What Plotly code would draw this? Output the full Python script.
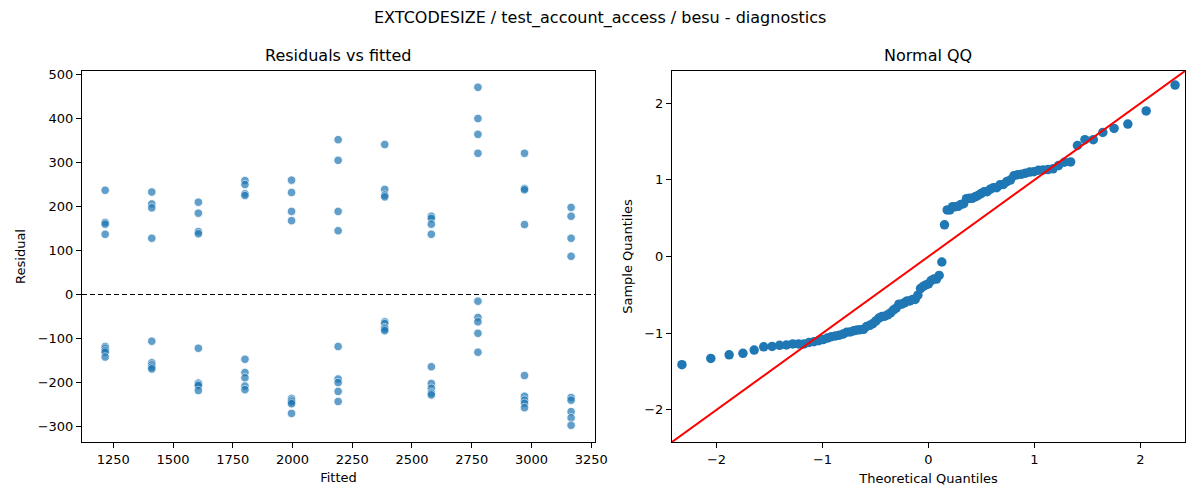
import statistics
import numpy as np
import plotly.graph_objects as go

# ---- data ----
fitted_levels = [1216, 1411, 1606, 1801, 1996, 2191, 2386, 2581, 2776, 2971, 3166]

residuals_by_level = [
    [237, 164, 160, 137, -118, -122, -127, -131, -142],
    [233, 206, 197, 128, -106, -155, -160, -165, -169],
    [210, 185, 143, 138, -122, -201, -204, -207, -218],
    [259, 250, 229, 225, -147, -177, -189, -208, -216],
    [260, 232, 189, 168, -236, -240, -244, -248, -270],
    [352, 305, 189, 145, -118, -192, -200, -220, -243],
    [341, 239, 226, 222, -62, -66, -75, -78, -82],
    [178, 173, 160, 137, -164, -202, -213, -224, -228],
    [471, 400, 364, 321, -15, -52, -62, -88, -131],
    [321, 241, 238, 159, -184, -231, -240, -247, -257],
    [198, 178, 128, 87, -234, -240, -266, -280, -297],
]

resid_ticks = [-300, -200, -100, 0, 100, 200, 300, 400, 500]
fitted_ticks = [1250, 1500, 1750, 2000, 2250, 2500, 2750, 3000, 3250]
qq_ticks = [-2, -1, 0, 1, 2]

title_text = "EXTCODESIZE / test_account_access / besu - diagnostics"

# ---- derived series ----
fitted = []
resid = []
for lvl, vals in zip(fitted_levels, residuals_by_level):
    for v in vals:
        fitted.append(lvl)
        resid.append(v)

r = np.array(resid, dtype=float)
n = len(r)
sample_q = np.sort((r - r.mean()) / r.std())
nd = statistics.NormalDist()
theo_q = np.array([nd.inv_cdf(i / (n + 1)) for i in range(1, n + 1)])

FONT = "DejaVu Sans"
BLUE = "#1f77b4"

# page body has an 8px margin; figure occupies page pixels 8..1200 x 8..500
OFF = 8
W, H = 1200 - OFF, 500 - OFF


def px(xp):
    return (xp - OFF) / W


def py(yp):
    return 1 - (yp - OFF) / H


fig = go.Figure()

# Residuals vs fitted
fig.add_trace(go.Scatter(
    x=fitted, y=resid, mode="markers",
    marker=dict(color=BLUE, opacity=0.7, size=8.5,
                line=dict(color="white", width=0.8)),
    xaxis="x", yaxis="y", showlegend=False, hoverinfo="x+y"))

xl = [1119, 3266]
fig.add_trace(go.Scatter(
    x=xl, y=[0, 0], mode="lines",
    line=dict(color="black", width=1.1, dash="5px,3px"),
    xaxis="x", yaxis="y", showlegend=False, hoverinfo="skip"))

# Normal QQ
fig.add_trace(go.Scatter(
    x=theo_q, y=sample_q, mode="markers",
    marker=dict(color=BLUE, size=9.5, line=dict(width=0)),
    xaxis="x2", yaxis="y2", showlegend=False))

lim = [-2.42, 2.42]
fig.add_trace(go.Scatter(
    x=lim, y=lim, mode="lines",
    line=dict(color="red", width=2),
    xaxis="x2", yaxis="y2", showlegend=False, hoverinfo="skip"))

axis_common = dict(
    showgrid=False, zeroline=False, showline=True, linecolor="black",
    linewidth=1, mirror=True, ticks="outside", ticklen=5, tickwidth=1,
    tickcolor="black", tickfont=dict(family=FONT, size=13, color="black"),
    automargin=False,
)

y_dom = [py(442), py(71)]

fig.update_layout(
    width=W, height=H,
    margin=dict(l=0, r=0, t=0, b=0, autoexpand=False),
    paper_bgcolor="white", plot_bgcolor="white",
    font=dict(family=FONT, color="black"),
    xaxis=dict(domain=[px(82), px(595)], range=xl,
               tickvals=fitted_ticks, anchor="y",
               title=dict(text="Fitted", font=dict(size=13, family=FONT), standoff=7),
               **axis_common),
    yaxis=dict(domain=y_dom, range=[-335, 508], tickvals=resid_ticks, anchor="x",
               title=dict(text="Residual", font=dict(size=13, family=FONT), standoff=9),
               **axis_common),
    xaxis2=dict(domain=[px(672), px(1185)], range=lim, tickvals=qq_ticks,
                anchor="y2",
                title=dict(text="Theoretical Quantiles", font=dict(size=13, family=FONT), standoff=8),
                **axis_common),
    yaxis2=dict(domain=y_dom, range=lim, tickvals=qq_ticks, anchor="x2",
                title=dict(text="Sample Quantiles", font=dict(size=13, family=FONT), standoff=8),
                **axis_common),
    annotations=[
        dict(text=title_text, x=px(600), y=py(18), xref="paper", yref="paper",
             showarrow=False, xanchor="center", yanchor="middle",
             font=dict(family=FONT, size=16, color="black")),
        dict(text="Residuals vs fitted", x=px((82 + 595) / 2), y=py(56),
             xref="paper", yref="paper", showarrow=False,
             xanchor="center", yanchor="middle",
             font=dict(family=FONT, size=16, color="black")),
        dict(text="Normal QQ", x=px((672 + 1185) / 2), y=py(56),
             xref="paper", yref="paper", showarrow=False,
             xanchor="center", yanchor="middle",
             font=dict(family=FONT, size=16, color="black")),
    ],
)

fig.write_html("out.html")
